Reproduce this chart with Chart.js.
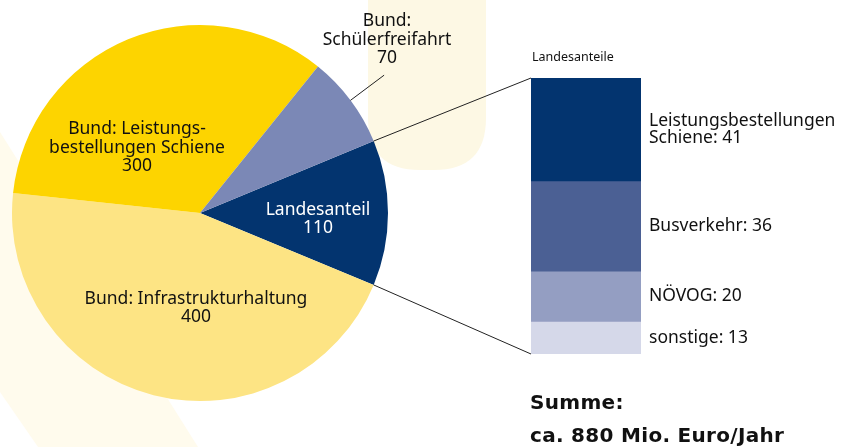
<!DOCTYPE html>
<html>
<head>
<meta charset="utf-8">
<script src="https://cdn.jsdelivr.net/npm/chart.js@4.4.0/dist/chart.umd.min.js"></script>
<style>
  html, body { margin: 0; padding: 0; background: #ffffff; }
  #wrap { position: relative; width: 851px; height: 447px; overflow: hidden; }
  #wrap canvas { position: absolute; left: 0; top: 0; }
</style>
</head>
<body>
<div id="wrap">
  <canvas id="pie" width="851" height="447"></canvas>
  <canvas id="bar" width="851" height="447"></canvas>
</div>
<script>
// ---- data ----
const pieLabels = [["Landesanteil"], ["Bund: Infrastrukturhaltung"], ["Bund: Leistungs-", "bestellungen Schiene"], ["Bund:", "Schülerfreifahrt"]];
const pieValues = [110, 400, 300, 70];
const barTitle = "Landesanteile";
const barLabels = [["Leistungsbestellungen", "Schiene"], ["Busverkehr"], ["NÖVOG"], ["sonstige"]];
const barValues = [41, 36, 20, 13];
const totalLines = ["Summe:", "ca. 880 Mio. Euro/Jahr"];

// ---- styles ----
const pieColors = ["#03346f", "#fde484", "#fdd400", "#7b88b6"];
const pieTextColors = ["#ffffff", "#111111", "#111111", "#111111"];
const barColors = ["#03346f", "#4b6094", "#949ec2", "#d5d8e9"];
const FONT = "'Noto Sans', 'Open Sans', sans-serif";
const BOLD = "'DejaVu Sans', sans-serif";

// label block offsets from pie centre (px)
const pieLabelOffsets = [[118, 6], [-4, 95], [-63, -65], [187, -173]];
const LH = 18.5;

const bgPlugin = {
  id: 'bg',
  beforeDraw(chart) {
    const ctx = chart.ctx;
    ctx.save();
    ctx.fillStyle = '#ffffff';
    ctx.fillRect(0, 0, chart.width, chart.height);
    // faint diagonal band on the left
    ctx.fillStyle = '#fffbed';
    ctx.beginPath();
    ctx.moveTo(0, 132);
    ctx.lineTo(198, 447);
    ctx.lineTo(38, 447);
    ctx.lineTo(0, 392);
    ctx.closePath();
    ctx.fill();
    // faint rounded column at the top
    ctx.fillStyle = '#fdf8e4';
    const x0 = 368, x1 = 486, y1 = 170, r = 52;
    ctx.beginPath();
    ctx.moveTo(x0, -10);
    ctx.lineTo(x1, -10);
    ctx.lineTo(x1, y1 - r);
    ctx.quadraticCurveTo(x1, y1, x1 - r, y1);
    ctx.lineTo(x0 + r, y1);
    ctx.quadraticCurveTo(x0, y1, x0, y1 - r);
    ctx.closePath();
    ctx.fill();
    ctx.restore();
  }
};

const pieLabelPlugin = {
  id: 'pieLabels',
  afterDatasetsDraw(chart) {
    const ctx = chart.ctx;
    const meta = chart.getDatasetMeta(0);
    const arc0 = meta.data[0];
    const cx = arc0.x, cy = arc0.y;
    ctx.save();
    ctx.font = "17.5px " + FONT;
    ctx.textAlign = 'center';
    ctx.textBaseline = 'middle';
    pieLabels.forEach((lines, i) => {
      const all = lines.concat([String(pieValues[i])]);
      const [dx, dy] = pieLabelOffsets[i];
      const top = cy + dy - (all.length - 1) * LH / 2;
      ctx.fillStyle = pieTextColors[i];
      all.forEach((t, k) => ctx.fillText(t, cx + dx, top + k * LH));
    });
    // pointer for the small slice
    const a = meta.data[3];
    const mid = (a.startAngle + a.endAngle) / 2;
    const r0 = a.outerRadius, r1 = a.outerRadius + 42;
    ctx.strokeStyle = '#222222';
    ctx.lineWidth = 1;
    ctx.beginPath();
    ctx.moveTo(cx + r0 * Math.cos(mid), cy + r0 * Math.sin(mid));
    ctx.lineTo(cx + r1 * Math.cos(mid), cy + r1 * Math.sin(mid));
    ctx.stroke();
    ctx.restore();
  }
};

const pieChart = new Chart(document.getElementById('pie'), {
  type: 'pie',
  data: {
    labels: pieLabels.map(l => l.join(' ')),
    datasets: [{ data: pieValues, backgroundColor: pieColors, borderWidth: 0 }]
  },
  options: {
    responsive: false,
    devicePixelRatio: 1,
    animation: false,
    rotation: 67.5,
    layout: { padding: { left: 12, top: 25, right: 463, bottom: 46 } },
    plugins: { legend: { display: false }, tooltip: { enabled: false } }
  },
  plugins: [bgPlugin, pieLabelPlugin]
});

const barLabelPlugin = {
  id: 'barLabels',
  afterDatasetsDraw(chart) {
    const ctx = chart.ctx;
    ctx.save();
    // connector lines from the Landesanteil slice to the bar
    const arc = pieChart.getDatasetMeta(0).data[0];
    const topBar = chart.getDatasetMeta(0).data[0];
    const botBar = chart.getDatasetMeta(barValues.length - 1).data[0];
    const left = topBar.x - topBar.width / 2;
    const right = topBar.x + topBar.width / 2;
    ctx.strokeStyle = '#222222';
    ctx.lineWidth = 1;
    ctx.beginPath();
    ctx.moveTo(arc.x + arc.outerRadius * Math.cos(arc.startAngle), arc.y + arc.outerRadius * Math.sin(arc.startAngle));
    ctx.lineTo(left, Math.min(topBar.y, topBar.base));
    ctx.moveTo(arc.x + arc.outerRadius * Math.cos(arc.endAngle), arc.y + arc.outerRadius * Math.sin(arc.endAngle));
    ctx.lineTo(left, Math.max(botBar.y, botBar.base));
    ctx.stroke();

    // title
    ctx.fillStyle = '#111111';
    ctx.font = "12.5px " + FONT;
    ctx.textAlign = 'left';
    ctx.textBaseline = 'middle';
    ctx.fillText(barTitle, left + 1, 57);

    // segment labels
    ctx.font = "17.5px " + FONT;
    barLabels.forEach((lines, i) => {
      const el = chart.getDatasetMeta(i).data[0];
      const midY = (el.y + el.base) / 2;
      const all = lines.slice();
      all[all.length - 1] = all[all.length - 1] + ': ' + barValues[i];
      const lh = 17;
      const top = midY - (all.length - 1) * lh / 2;
      all.forEach((t, k) => ctx.fillText(t, right + 8, top + k * lh));
    });

    // total
    ctx.font = "bold 20px " + BOLD;
    ctx.letterSpacing = '0.3px';
    ctx.fillText(totalLines[0], 530, 404);
    ctx.fillText(totalLines[1], 530, 437);
    ctx.restore();
  }
};

new Chart(document.getElementById('bar'), {
  type: 'bar',
  data: {
    labels: [barTitle],
    datasets: barValues.map((v, i) => ({
      label: barLabels[i].join(' '),
      data: [v],
      backgroundColor: barColors[i],
      borderWidth: 0,
      barPercentage: 1,
      categoryPercentage: 1
    }))
  },
  options: {
    responsive: false,
    devicePixelRatio: 1,
    animation: false,
    layout: { padding: { left: 531, top: 78, right: 210, bottom: 93 } },
    scales: {
      x: { display: false, stacked: true },
      y: { display: false, stacked: true, reverse: true, min: 0, max: 110 }
    },
    plugins: { legend: { display: false }, tooltip: { enabled: false } }
  },
  plugins: [barLabelPlugin]
});
</script>
</body>
</html>
